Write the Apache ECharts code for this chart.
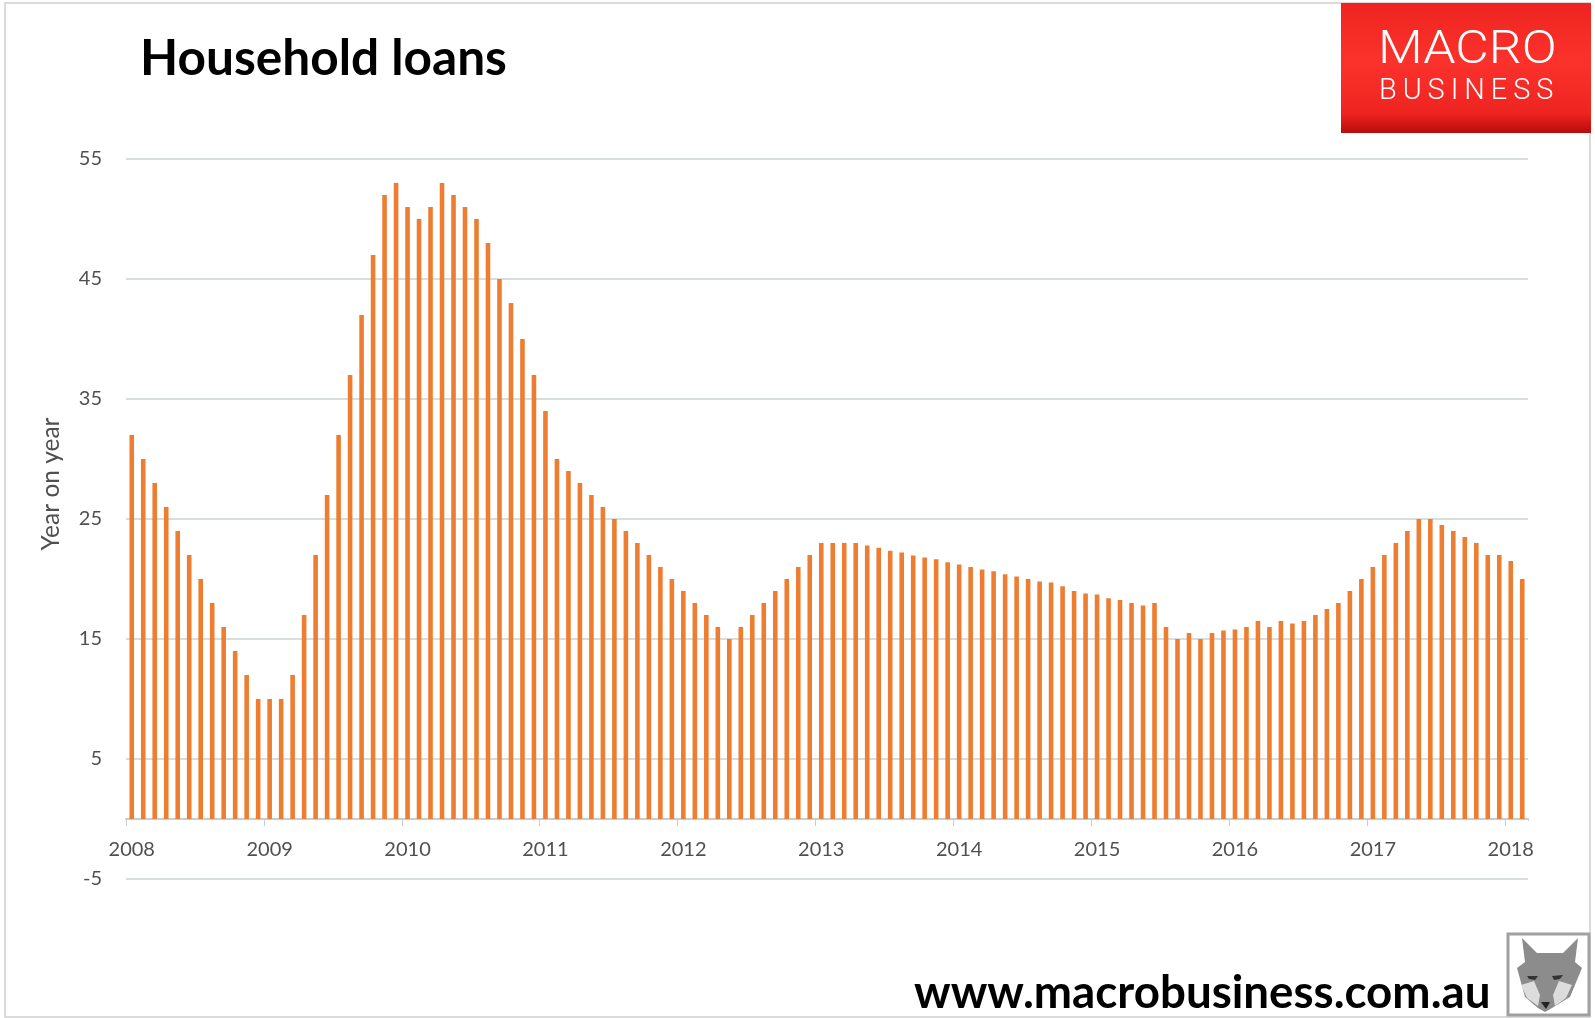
<!DOCTYPE html>
<html>
<head>
<meta charset="utf-8">
<title>Household loans</title>
<script src="https://cdn.jsdelivr.net/npm/echarts@6/dist/echarts.min.js"></script>
<style>
  html, body { margin: 0; padding: 0; background: #fff; }
  #chart { width: 1595px; height: 1018px; }
</style>
</head>
<body>
<div id="chart"></div>
<script>
// monthly, Jan 2008 .. Feb 2018
const values2008 = [32, 30, 28, 26, 24, 22, 20, 18, 16, 14, 12, 10]
const values2009 = [10, 10, 12, 17, 22, 27, 32, 37, 42, 47, 52, 53]
const values2010 = [51, 50, 51, 53, 52, 51, 50, 48, 45, 43, 40, 37]
const values2011 = [34, 30, 29, 28, 27, 26, 25, 24, 23, 22, 21, 20]
const values2012 = [19, 18, 17, 16, 15, 16, 17, 18, 19, 20, 21, 22]
const values2013 = [23, 23, 23, 23, 22.8, 22.6, 22.35, 22.2, 21.95, 21.8, 21.65, 21.4]
const values2014 = [21.2, 21, 20.8, 20.65, 20.4, 20.2, 20, 19.8, 19.7, 19.4, 19, 18.8]
const values2015 = [18.7, 18.4, 18.25, 18, 17.8, 18, 16, 15, 15.5, 15, 15.5, 15.7]
const values2016 = [15.8, 16, 16.5, 16, 16.5, 16.3, 16.5, 17, 17.5, 18, 19, 20]
const values2017 = [21, 22, 23, 24, 25, 25, 24.5, 24, 23.5, 23, 22, 22]
const values2018 = [21.5, 20]

const loanValues = [].concat(values2008, values2009, values2010, values2011, values2012,
  values2013, values2014, values2015, values2016, values2017, values2018)

const years = ['2008', '2009', '2010', '2011', '2012', '2013', '2014', '2015', '2016', '2017', '2018']
const categories = loanValues.map((_, i) => years[Math.floor(i / 12)])
const yTicks = [-5, 5, 15, 25, 35, 45, 55]

const textFont = 'Lato, "Open Sans", sans-serif'
const logoFont = 'Roboto, sans-serif'

const chart = echarts.init(document.getElementById('chart'))

chart.setOption({
  animation: false,
  backgroundColor: '#ffffff',
  grid: { left: 126, top: 159, width: 1402, height: 720 },
  xAxis: {
    type: 'category',
    data: categories,
    axisLine: { onZero: true, lineStyle: { color: '#c8cdcd', width: 2 } },
    axisTick: { show: true, interval: 11, length: 7, lineStyle: { color: '#c8cdcd', width: 1 } },
    axisLabel: {
      interval: 11,
      margin: -39,
      color: '#505050',
      fontFamily: textFont,
      fontSize: 20
    }
  },
  yAxis: {
    type: 'value',
    min: -5,
    max: 55,
    axisLine: { show: false },
    axisTick: { show: false, customValues: yTicks },
    axisLabel: {
      customValues: yTicks,
      margin: 24,
      color: '#505050',
      fontFamily: textFont,
      fontSize: 20
    },
    splitLine: { show: true, lineStyle: { color: '#cbd3d3', width: 1.5 } }
  },
  series: [
    {
      type: 'bar',
      data: loanValues,
      barWidth: 4.6,
      itemStyle: { color: '#ed7d31' }
    }
  ],
  graphic: [
    // outer frame
    { type: 'rect', shape: { x: 5, y: 3, width: 1585, height: 1014 }, style: { fill: 'none', stroke: '#cfcfcf', lineWidth: 1.5 }, z: -1 },
    // hide the closing tick echarts adds at the end of the band axis
    { type: 'rect', shape: { x: 1526, y: 821, width: 4, height: 8 }, style: { fill: '#fff' }, z: 100 },
    // title, footer, axis name
    { type: 'text', x: 140, y: 59, style: { text: 'Household loans', fill: '#000', font: 'bold 49.6px ' + textFont, verticalAlign: 'middle' } },
    { type: 'text', x: 914, y: 993, style: { text: 'www.macrobusiness.com.au', fill: '#000', font: 'bold 45.7px ' + textFont, verticalAlign: 'middle' } },
    { type: 'text', x: 51, y: 484, rotation: Math.PI / 2, style: { text: 'Year on year', fill: '#505050', font: '24.5px ' + textFont, align: 'center', verticalAlign: 'middle' } },
    // logo
    {
      type: 'rect',
      shape: { x: 1341, y: 3, width: 250, height: 130 },
      style: {
        fill: {
          type: 'linear', x: 0, y: 0, x2: 0, y2: 1,
          colorStops: [
            { offset: 0, color: '#ee2420' },
            { offset: 0.45, color: '#fb322c' },
            { offset: 0.85, color: '#ee2420' },
            { offset: 1, color: '#b80c0c' }
          ]
        }
      }
    },
    { type: 'text', x: 1378, y: 51, scaleX: 1.1, style: { text: 'MACRO', fill: '#fff', font: '300 47px ' + logoFont, verticalAlign: 'middle' } },
    { type: 'text', x: 1379, y: 91, scaleX: 0.965, style: { text: 'B\u2009U\u2009S\u2009I\u2009N\u2009E\u2009S\u2009S', fill: '#fff', font: '300 30px ' + logoFont, verticalAlign: 'middle' } },
    // fox badge
    { type: 'rect', shape: { x: 1508, y: 934, width: 81, height: 81 }, style: { fill: '#fff', stroke: '#a0a0a0', lineWidth: 3 } },
    { type: 'polygon', shape: { points: [[1522, 938], [1537, 953], [1563, 953], [1578, 938], [1575, 962], [1582, 968], [1570, 997], [1552, 1008], [1545, 1012], [1538, 1008], [1525, 997], [1517, 968], [1525, 962]] }, style: { fill: '#8c8c8c' } },
    { type: 'polygon', shape: { points: [[1521, 985], [1534, 981], [1540, 995], [1538, 1006], [1527, 998]] }, style: { fill: '#dcdcdc' } },
    { type: 'polygon', shape: { points: [[1572, 985], [1559, 981], [1553, 995], [1555, 1006], [1566, 998]] }, style: { fill: '#dcdcdc' } },
    { type: 'polygon', shape: { points: [[1527, 976], [1538, 976], [1535, 980], [1529, 979]] }, style: { fill: '#333' } },
    { type: 'polygon', shape: { points: [[1552, 976], [1563, 975], [1560, 979], [1554, 980]] }, style: { fill: '#333' } },
    { type: 'polygon', shape: { points: [[1541, 1002], [1550, 1002], [1546, 1009]] }, style: { fill: '#222' } }
  ]
})
</script>
</body>
</html>
